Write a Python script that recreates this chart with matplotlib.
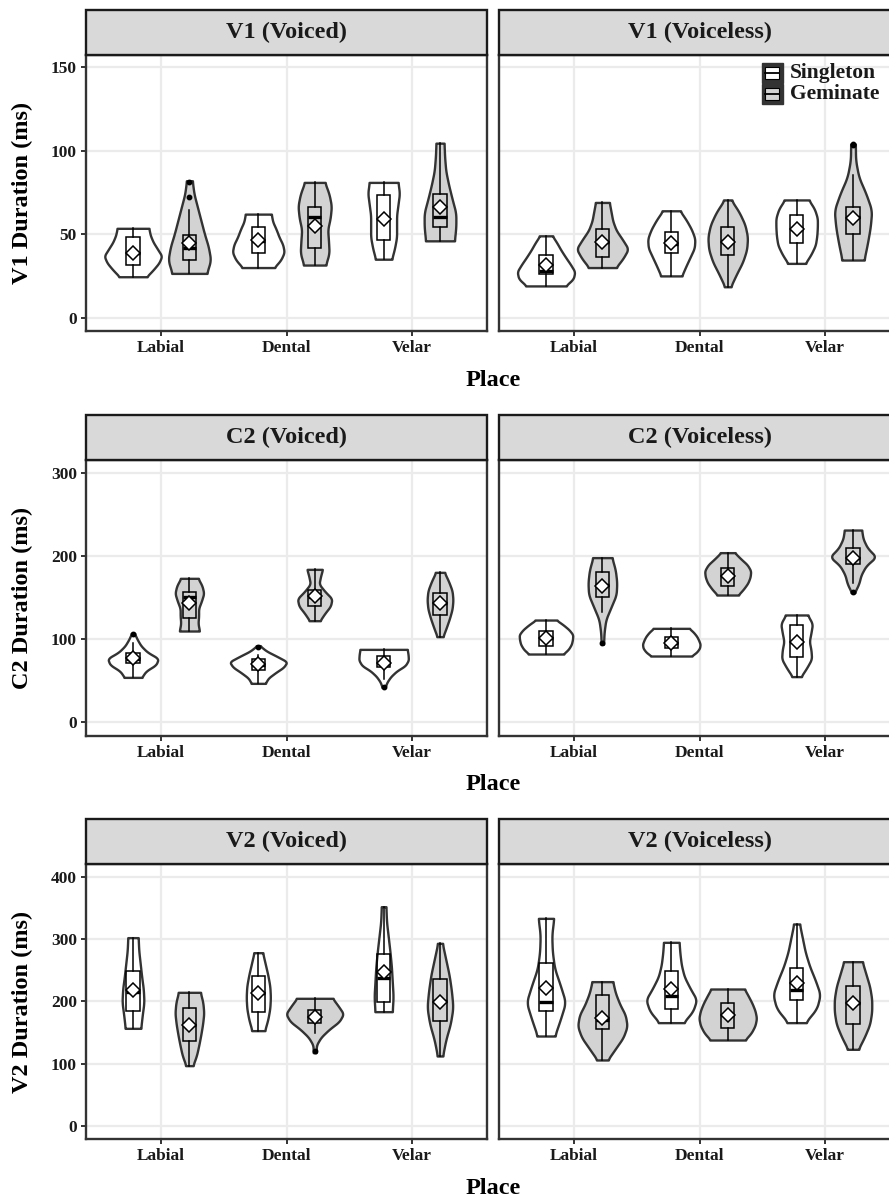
import numpy as np
import matplotlib
matplotlib.use("Agg")
import matplotlib.pyplot as plt
from matplotlib.patches import Rectangle

plt.rcParams['font.family'] = ['Liberation Serif', 'DejaVu Serif']
plt.rcParams['font.weight'] = 'bold'

places = ['Labial', 'Dental', 'Velar']
voicing = ['Voiced', 'Voiceless']
lengths = ['Singleton', 'Geminate']
measures = ['V1', 'C2', 'V2']

# order of the 12 entries: voicing -> place -> length
# V1
v1_min = [24.5, 26.5, 30, 31.5, 35, 46, 19, 30, 25, 18.5, 32.5, 34.5]
v1_max = [53.5, 82, 62, 81, 81, 104.5, 49, 69, 64, 70.5, 70.5, 104]
v1_q1 = [31.5, 34.5, 39, 41.5, 46.5, 54, 26, 36.5, 38.5, 37.5, 44.5, 50]
v1_med = [39, 42, 46, 60.5, 59, 60.5, 28, 45.5, 44, 46, 53, 60.5]
v1_q3 = [48.3, 49.5, 54.3, 66.5, 73.5, 74, 37.5, 53, 51, 54.5, 61.5, 66.5]
v1_wlo = [24.5, 26.5, 30, 31.5, 35, 46, 19, 30, 25, 18.5, 32.5, 34.5]
v1_whi = [53.5, 64.5, 62, 81, 81, 104.5, 49, 69, 64, 70.5, 70.5, 85.5]
v1_mean = [39, 45, 46.5, 55, 59, 66.5, 31.5, 45.5, 45, 45.5, 53, 59.5]
v1_out = [[], [72.5, 81.5], [], [], [], [], [], [], [], [], [], [103.5, 104]]
v1_shape = [
    [0.47, 0.7, 0.9, 1.0, 0.85, 0.7, 0.6, 0.55],
    [0.6, 0.74, 0.66, 0.52, 0.4, 0.28, 0.16, 0.1],
    [0.55, 0.78, 0.9, 0.85, 0.72, 0.62, 0.5, 0.45],
    [0.38, 0.5, 0.48, 0.45, 0.54, 0.58, 0.5, 0.35],
    [0.28, 0.38, 0.45, 0.45, 0.45, 0.5, 0.55, 0.5],
    [0.5, 0.55, 0.55, 0.42, 0.3, 0.2, 0.16, 0.14],
    [0.68, 0.95, 1.0, 0.85, 0.68, 0.52, 0.38, 0.22],
    [0.47, 0.72, 0.9, 0.7, 0.48, 0.36, 0.3, 0.24],
    [0.36, 0.5, 0.65, 0.8, 0.82, 0.7, 0.52, 0.3],
    [0.1, 0.3, 0.52, 0.66, 0.69, 0.6, 0.4, 0.12],
    [0.3, 0.5, 0.65, 0.7, 0.72, 0.72, 0.62, 0.42],
    [0.38, 0.5, 0.6, 0.65, 0.45, 0.2, 0.09, 0.08],
]

# C2
c2_min = [53.7, 109.5, 46.5, 121.9, 41.7, 102.7, 81.8, 93.5, 79.4, 152.8, 54.6, 155.6]
c2_max = [106.7, 172.9, 91.9, 183.7, 87.4, 180.1, 122.7, 197.8, 112.7, 203.8, 128.8, 231]
c2_q1 = [70.6, 124.7, 62.6, 139.6, 66.6, 128.8, 91.5, 150.8, 88.6, 163.7, 77.8, 189.7]
c2_med = [76, 150.8, 69, 151, 71, 143, 101, 164.9, 95, 176, 96, 197]
c2_q3 = [83.4, 156.8, 75.4, 158.8, 79.4, 155.6, 109.9, 180.1, 102.7, 185.7, 116.7, 209.8]
c2_wlo = [53.7, 109.5, 46.5, 121.9, 51.3, 102.7, 81.8, 132.8, 79.4, 152.8, 54.6, 167.7]
c2_whi = [94.7, 172.9, 80.6, 183.7, 87.4, 180.1, 122.7, 197.8, 112.7, 203.8, 128.8, 231]
c2_mean = [77.4, 142.8, 69.4, 151.6, 70.6, 143.6, 101.5, 164, 95.5, 176.1, 96.7, 197]
c2_out = [[105.5], [], [90.5], [], [41.7], [], [], [94.5], [], [], [], [156]]
c2_shape = [
    [0.3, 0.45, 0.8, 0.88, 0.5, 0.28, 0.15, 0.05],
    [0.35, 0.3, 0.32, 0.32, 0.42, 0.5, 0.44, 0.3],
    [0.24, 0.35, 0.6, 0.88, 1.0, 0.65, 0.28, 0.05],
    [0.18, 0.35, 0.55, 0.6, 0.35, 0.15, 0.2, 0.27],
    [0.05, 0.12, 0.25, 0.45, 0.75, 0.86, 0.85, 0.82],
    [0.1, 0.22, 0.33, 0.42, 0.45, 0.42, 0.3, 0.15],
    [0.6, 0.78, 0.88, 0.92, 0.93, 0.8, 0.6, 0.36],
    [0.04, 0.06, 0.12, 0.3, 0.48, 0.5, 0.45, 0.33],
    [0.7, 0.88, 0.98, 1.0, 0.95, 0.88, 0.77, 0.62],
    [0.36, 0.55, 0.7, 0.78, 0.8, 0.68, 0.45, 0.24],
    [0.15, 0.35, 0.52, 0.5, 0.44, 0.5, 0.55, 0.38],
    [0.05, 0.2, 0.28, 0.45, 0.8, 0.5, 0.35, 0.3],
]

# V2
v2_min = [157, 97.2, 153.3, 118, 183.7, 112.7, 144.7, 106.3, 166.1, 138.3, 166.1, 123.4]
v2_max = [302.3, 214.7, 278.2, 205.1, 351.9, 293.2, 333.2, 231.8, 294.8, 220, 324.2, 263.8]
v2_q1 = [185.3, 136.7, 183.7, 165, 198.7, 168.8, 185.3, 155.4, 188, 157, 202.4, 164]
v2_med = [216, 162, 213, 175, 237, 200, 199.7, 170, 209.3, 178.4, 218.4, 198]
v2_q3 = [248.9, 189, 240.9, 186.4, 276.1, 235.5, 262.2, 210.4, 248.9, 198.1, 254.2, 225.4]
v2_wlo = [157, 97.2, 153.3, 149, 183.7, 112.7, 144.7, 106.3, 166.1, 138.3, 166.1, 123.4]
v2_whi = [302.3, 214.7, 278.2, 205.1, 351.9, 293.2, 333.2, 231.8, 294.8, 220, 324.2, 263.8]
v2_mean = [218.4, 162.4, 213.1, 174.6, 246.7, 199.7, 221, 173, 220, 178.4, 230.2, 198.1]
v2_out = [[], [], [], [121], [], [], [], [], [], [], [], []]
v2_shape = [
    [0.27, 0.32, 0.38, 0.36, 0.3, 0.25, 0.2, 0.18],
    [0.12, 0.25, 0.33, 0.4, 0.46, 0.5, 0.47, 0.38],
    [0.22, 0.33, 0.4, 0.42, 0.4, 0.33, 0.24, 0.15],
    [0.05, 0.06, 0.22, 0.5, 0.85, 1.0, 0.82, 0.62],
    [0.3, 0.33, 0.3, 0.27, 0.22, 0.16, 0.1, 0.08],
    [0.09, 0.2, 0.36, 0.45, 0.4, 0.32, 0.2, 0.08],
    [0.3, 0.5, 0.68, 0.5, 0.3, 0.22, 0.2, 0.27],
    [0.18, 0.45, 0.72, 0.86, 0.8, 0.6, 0.45, 0.36],
    [0.42, 0.75, 0.88, 0.65, 0.45, 0.35, 0.3, 0.27],
    [0.6, 0.82, 0.95, 1.0, 0.95, 0.85, 0.72, 0.58],
    [0.3, 0.7, 0.82, 0.65, 0.45, 0.3, 0.2, 0.1],
    [0.18, 0.4, 0.58, 0.65, 0.65, 0.58, 0.45, 0.32],
]

y_ticks = {'V1': [0, 50, 100, 150], 'C2': [0, 100, 200, 300], 'V2': [0, 100, 200, 300, 400]}
y_lims = {'V1': (-8, 157.3), 'C2': (-16.5, 315.3), 'V2': (-20.8, 420.3)}

data = {
    'V1': (v1_min, v1_max, v1_q1, v1_med, v1_q3, v1_wlo, v1_whi, v1_mean, v1_out, v1_shape),
    'C2': (c2_min, c2_max, c2_q1, c2_med, c2_q3, c2_wlo, c2_whi, c2_mean, c2_out, c2_shape),
    'V2': (v2_min, v2_max, v2_q1, v2_med, v2_q3, v2_wlo, v2_whi, v2_mean, v2_out, v2_shape),
}

fills = {'Singleton': 'white', 'Geminate': '#d3d3d3'}
dark = '#333333'
W, H = 889, 1198
fig = plt.figure(figsize=(W / 100, H / 100), dpi=100)

# pixel layout: (panel top, panel bottom) for each row
rows_px = [(55, 331), (460, 735.7), (864, 1139.3)]
cols_px = [(86, 487), (499, 900)]
strip_h = 45
dodge = 0.225
half_max = 0.23
box_half = 0.052


def violin(ax, x, lo, hi, shape, color):
    levels = np.linspace(lo, hi, len(shape))
    yy = np.linspace(lo, hi, 120)
    ww = np.interp(yy, levels, shape)
    k = 13
    pad = np.pad(ww, k // 2, mode='edge')
    ww = np.convolve(pad, np.ones(k) / k, mode='valid')
    hw = ww * half_max
    ax.fill_betweenx(yy, x - hw, x + hw, facecolor=color, edgecolor=dark,
                     linewidth=1.7, zorder=3)


for r, m in enumerate(measures):
    mn, mx, q1, med, q3, wlo, whi, mean, out, shape = data[m]
    top, bot = rows_px[r]
    for c, vc in enumerate(voicing):
        l, rr = cols_px[c]
        ax = fig.add_axes([l / W, 1 - bot / H, (rr - l) / W, (bot - top) / H])
        ax.set_xlim(0.4, 3.6)
        ax.set_ylim(*y_lims[m])
        ax.set_xticks([1, 2, 3])
        ax.set_xticklabels(places, fontsize=12.5, fontweight='bold')
        ax.set_yticks(y_ticks[m])
        ax.grid(True, color='#ebebeb', linewidth=1.6, zorder=0)
        ax.set_axisbelow(True)
        for s in ax.spines.values():
            s.set_color(dark)
            s.set_linewidth(1.7)
        ax.tick_params(axis='both', length=3.5, width=1.4, color=dark, pad=3,
                       labelcolor='#1a1a1a')
        if c == 0:
            ax.set_yticklabels([str(t) for t in y_ticks[m]], fontsize=12.5,
                               fontweight='bold')
        else:
            ax.tick_params(axis='y', left=False, labelleft=False)

        for p in range(3):
            for g, ln in enumerate(lengths):
                i = c * 6 + p * 2 + g
                x = p + 1 + (dodge if g else -dodge)
                violin(ax, x, mn[i], mx[i], shape[i], fills[ln])
                ax.add_patch(Rectangle((x - box_half, q1[i]), 2 * box_half,
                                       q3[i] - q1[i], facecolor='none',
                                       edgecolor='black', linewidth=1.1, zorder=4))
                ax.plot([x, x], [wlo[i], q1[i]], color='black', lw=1.1, zorder=4)
                ax.plot([x, x], [q3[i], whi[i]], color='black', lw=1.1, zorder=4)
                ax.plot([x - box_half, x + box_half], [med[i], med[i]],
                        color='black', lw=2.4, zorder=4, solid_capstyle='butt')
                if out[i]:
                    ax.plot([x] * len(out[i]), out[i], 'o', color='black',
                            markersize=3.2, zorder=5)
                ax.plot([x], [mean[i]], 'D', markerfacecolor='white',
                        markeredgecolor='black', markeredgewidth=1.1,
                        markersize=7.5, zorder=6)

        # strip
        sh = strip_h / (bot - top)
        ax.add_patch(Rectangle((0, 1), 1, sh, transform=ax.transAxes,
                               facecolor='#d9d9d9', edgecolor='#1a1a1a',
                               linewidth=1.7, clip_on=False, zorder=10))
        ax.text(0.5, 1 + sh / 2, f'{m} ({vc})', transform=ax.transAxes,
                ha='center', va='center', fontsize=17.5, fontweight='bold',
                color='#1a1a1a', zorder=11)

        # legend in the first row, right panel
        if r == 0 and c == 1:
            for g, ln in enumerate(lengths):
                ky0 = (bot - (63.3 + g * 21)) / (bot - top)
                kh = 19.5 / (bot - top)
                kx0 = (762 - l) / (rr - l)
                kw = 20.5 / (rr - l)
                ax.add_patch(Rectangle((kx0, ky0 - kh), kw, kh, transform=ax.transAxes,
                                       facecolor=dark, edgecolor=dark, lw=1,
                                       clip_on=False, zorder=12))
                ax.add_patch(Rectangle((kx0 + kw * 0.15, ky0 - kh * 0.82), kw * 0.7,
                                       kh * 0.64, transform=ax.transAxes,
                                       facecolor=fills[ln], edgecolor='black', lw=0.8,
                                       clip_on=False, zorder=13))
                ax.plot([kx0 + kw * 0.15, kx0 + kw * 0.85], [ky0 - kh / 2] * 2,
                        transform=ax.transAxes, color='black', lw=1.3,
                        clip_on=False, zorder=14)
                ax.text((790 - l) / (rr - l), ky0 - kh / 2, ln, transform=ax.transAxes,
                        ha='left', va='center', fontsize=15.5, fontweight='bold',
                        color='#1a1a1a', zorder=14)

    # axis titles
    fig.text(22 / W, 1 - (top + bot) / 2 / H, f'{m} Duration (ms)', rotation=90,
             ha='center', va='center', fontsize=17.5, fontweight='bold', color='black')
    fig.text(493 / W, 1 - (bot + 49) / H, 'Place', ha='center', va='center',
             fontsize=17.5, fontweight='bold', color='black')

fig.savefig('out.png', dpi=100)
